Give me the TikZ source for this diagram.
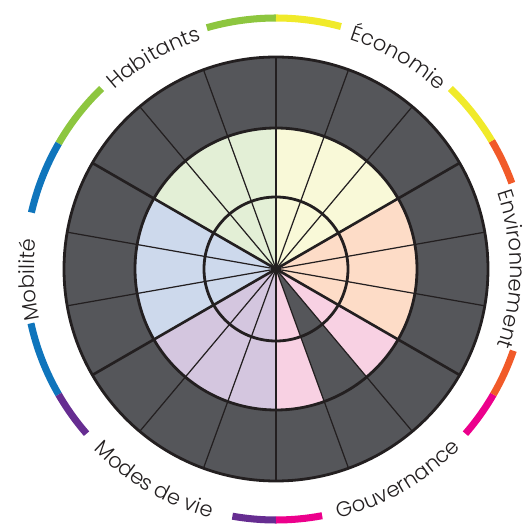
\documentclass[tikz,border=0pt]{standalone}
\usepackage{fontspec}
\newfontfamily\wheelfont[LetterSpace=16, WordSpace=0.6]{Poppins Light}
\usetikzlibrary{decorations.text}

\definecolor{wheelline}{RGB}{35,31,32}
\definecolor{darkfill}{RGB}{85,86,90}
\definecolor{fill_eco}{RGB}{249,249,216}
\definecolor{fill_env}{RGB}{253,220,199}
\definecolor{fill_gov}{RGB}{248,209,227}
\definecolor{fill_mod}{RGB}{212,198,223}
\definecolor{fill_mob}{RGB}{205,217,236}
\definecolor{fill_hab}{RGB}{227,239,214}
\definecolor{band_hab}{RGB}{141,198,63}
\definecolor{band_eco}{RGB}{240,234,42}
\definecolor{band_env}{RGB}{241,90,41}
\definecolor{band_gov}{RGB}{236,0,140}
\definecolor{band_mod}{RGB}{102,45,145}
\definecolor{band_mob}{RGB}{15,117,188}

\begin{document}
\begin{tikzpicture}[x=0.02cm, y=0.02cm, line join=round,
		thick_line/.style={draw=wheelline, line width=1.5pt},
		thin_line/.style={draw=wheelline, line width=0.7pt},
		circle_line/.style={draw=wheelline, line width=1.6pt},
		band_style/.style={line width=4pt},
		label_style/.style={decorate, decoration={text along path, text align=center,
			text={|\wheelfont\fontsize{12}{14}\selectfont\color{wheelline}|#1}}}]
		
		\useasboundingbox (-276,-255) rectangle (249,269);
		\coordinate (c) at (0,0);
		
		% dark background and coloured sectors
		\fill[darkfill] (c) circle[radius=212];
		\fill[fill_eco] (c) -- (90:141) arc[start angle=90, end angle=30, radius=141] -- cycle;
		\fill[fill_env] (c) -- (30:141) arc[start angle=30, end angle=-30, radius=141] -- cycle;
		\fill[fill_gov] (c) -- (-30:141) arc[start angle=-30, end angle=-50, radius=141] -- cycle;
		\fill[fill_gov] (c) -- (-70:141) arc[start angle=-70, end angle=-90, radius=141] -- cycle;
		\fill[fill_mod] (c) -- (-90:141) arc[start angle=-90, end angle=-150, radius=141] -- cycle;
		\fill[fill_mob] (c) -- (210:141) arc[start angle=210, end angle=150, radius=141] -- cycle;
		\fill[fill_hab] (c) -- (150:141) arc[start angle=150, end angle=90, radius=141] -- cycle;
		
		% spokes
		\draw[thin_line] (c) -- (70:212);
		\draw[thin_line] (c) -- (50:212);
		\draw[thin_line] (c) -- (10:212);
		\draw[thin_line] (c) -- (-10:212);
		\draw[thin_line] (c) -- (-50:212);
		\draw[thin_line] (c) -- (-70:212);
		\draw[thin_line] (c) -- (-110:212);
		\draw[thin_line] (c) -- (-130:212);
		\draw[thin_line] (c) -- (170:212);
		\draw[thin_line] (c) -- (190:212);
		\draw[thin_line] (c) -- (130:212);
		\draw[thin_line] (c) -- (110:212);
		\draw[thick_line] (c) -- (90:212);
		\draw[thick_line] (c) -- (30:212);
		\draw[thick_line] (c) -- (-30:212);
		\draw[thick_line] (c) -- (-90:212);
		\draw[thick_line] (c) -- (-150:212);
		\draw[thick_line] (c) -- (150:212);
		
		% rings
		\draw[circle_line] (c) circle[radius=72];
		\draw[circle_line] (c) circle[radius=141];
		\draw[circle_line] (c) circle[radius=212];
		\fill[wheelline] (c) circle[radius=3];
		
		% coloured bands
		\draw[band_style, band_hab] (90:251) arc[start angle=90, end angle=106, radius=251];
		\draw[band_style, band_hab] (134:251) arc[start angle=134, end angle=150, radius=251];
		\draw[band_style, band_mob] (150:251) arc[start angle=150, end angle=167, radius=251];
		\draw[band_style, band_mob] (192.5:251) arc[start angle=192.5, end angle=210, radius=251];
		\draw[band_style, band_mod] (210:251) arc[start angle=210, end angle=221, radius=251];
		\draw[band_style, band_mod] (260:251) arc[start angle=260, end angle=270, radius=251];
		\draw[band_style, band_gov] (270:251) arc[start angle=270, end angle=280.6, radius=251];
		\draw[band_style, band_gov] (319:251) arc[start angle=319, end angle=330, radius=251];
		\draw[band_style, band_env] (330:251) arc[start angle=330, end angle=341, radius=251];
		\draw[band_style, band_env] (20:251) arc[start angle=20, end angle=30.7, radius=251];
		\draw[band_style, band_eco] (30.7:251) arc[start angle=30.7, end angle=46, radius=251];
		\draw[band_style, band_eco] (75:251) arc[start angle=75, end angle=90, radius=251];
		
		% labels
		\path[label_style={Habitants}] (150:241) arc[start angle=150, end angle=90, radius=241];
		\path[label_style={Économie}] (90:241) arc[start angle=90, end angle=30, radius=241];
		\path[label_style={Environnement}] (30:234) arc[start angle=30, end angle=-30, radius=234];
		\path[label_style={Mobilité}] (212.5:242) arc[start angle=212.5, end angle=152.5, radius=242];
		\path[label_style={Modes de vie}] (210:257) arc[start angle=210, end angle=270, radius=257];
		\path[label_style={Gouvernance}] (270:257) arc[start angle=270, end angle=330, radius=257];
		
\end{tikzpicture}
\end{document}
